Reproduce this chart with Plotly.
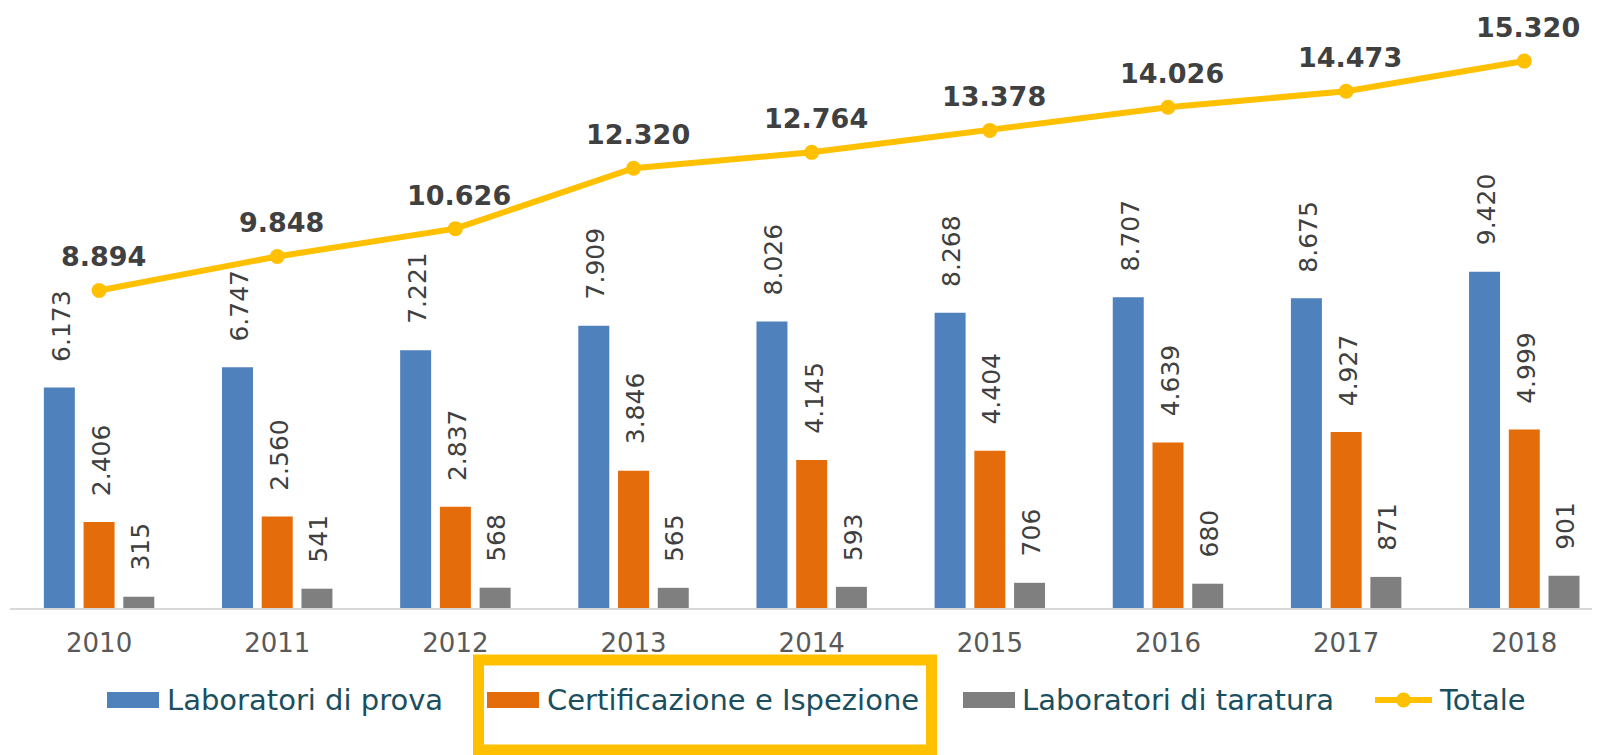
import plotly.graph_objects as go

# ---------------- data ----------------
years = ["2010", "2011", "2012", "2013", "2014", "2015", "2016", "2017", "2018"]
lab_prova = [6173, 6747, 7221, 7909, 8026, 8268, 8707, 8675, 9420]
cert_isp = [2406, 2560, 2837, 3846, 4145, 4404, 4639, 4927, 4999]
lab_taratura = [315, 541, 568, 565, 593, 706, 680, 871, 901]
totale = [8894, 9848, 10626, 12320, 12764, 13378, 14026, 14473, 15320]
series_names = ["Laboratori di prova", "Certificazione e Ispezione",
                "Laboratori di taratura", "Totale"]

# ---------------- style ----------------
colors = ["#4F81BD", "#E46C0A", "#7F7F7F"]
line_color = "#FFC000"
label_color = "#404040"
tick_color = "#595959"
legend_color = "#1B4F5E"
FONT = "DejaVu Sans, Verdana, sans-serif"

OFF = 8                      # page body margin of the browser
W, H = 1600 - OFF, 755 - OFF
ML, MR, MT, MB = 2, 0, 0, 147
PW, PH = W - ML - MR, H - MT - MB


def px(x):   # screen pixel -> paper
    return (x - OFF - ML) / PW


def py(y):   # screen pixel -> paper
    return (OFF + MT + PH - y) / PH


def fmt(v):
    return f"{v:,}".replace(",", ".")


fig = go.Figure()
bar_series = [lab_prova, cert_isp, lab_taratura]
for vals, name, col in zip(bar_series, series_names[:3], colors):
    fig.add_trace(go.Bar(x=years, y=vals, name=name, marker_color=col,
                         marker_line_width=0, showlegend=False))

fig.add_trace(go.Scatter(x=years, y=totale, name=series_names[3],
                         mode="lines+markers",
                         line=dict(color=line_color, width=6),
                         marker=dict(color=line_color, size=15),
                         showlegend=False))

annotations = []
slot = 39.75
for k, vals in enumerate(bar_series):
    for i, v in enumerate(vals):
        annotations.append(dict(
            x=i, y=v, xref="x", yref="y", text=fmt(v), showarrow=False,
            textangle=-90, xanchor="center", yanchor="bottom",
            xshift=(k - 1) * slot + 2, yshift=24,
            font=dict(family=FONT, size=25, color=label_color)))

for i, v in enumerate(totale):
    annotations.append(dict(
        x=i, y=v, xref="x", yref="y", text="<b>" + fmt(v) + "</b>",
        showarrow=False, xanchor="center", yanchor="bottom",
        xshift=4, yshift=16,
        font=dict(family=FONT, size=27, color=label_color)))

# ---------------- manual legend ----------------
shapes = []
swatch_x = [107, 487, 963]
text_x = [165, 545, 1020, 1437]
leg_y = 700
for sx, col in zip(swatch_x, colors):
    shapes.append(dict(type="rect", xref="paper", yref="paper",
                       x0=px(sx), x1=px(sx + 52), y0=py(708), y1=py(692),
                       fillcolor=col, line_width=0))
shapes.append(dict(type="line", xref="paper", yref="paper",
                   x0=px(1375), x1=px(1432), y0=py(leg_y), y1=py(leg_y),
                   line=dict(color=line_color, width=6)))
shapes.append(dict(type="circle", xref="paper", yref="paper",
                   x0=px(1396), x1=px(1411), y0=py(707.5), y1=py(692.5),
                   fillcolor=line_color, line_width=0))
for tx, name in zip(text_x, series_names):
    annotations.append(dict(
        x=px(tx), y=py(leg_y), xref="paper", yref="paper", text=name,
        showarrow=False, xanchor="left", yanchor="middle",
        font=dict(family=FONT, size=29, color=legend_color)))

# highlight frame around the second legend entry
shapes.append(dict(type="rect", xref="paper", yref="paper",
                   x0=px(478.5), x1=px(931.5), y0=py(750), y1=py(660),
                   line=dict(color=line_color, width=11), fillcolor="rgba(0,0,0,0)"))

fig.update_layout(
    width=W, height=H,
    margin=dict(l=ML, r=MR, t=MT, b=MB),
    paper_bgcolor="white", plot_bgcolor="white",
    barmode="group", bargap=0.331, bargroupgap=0.22,
    showlegend=False,
    annotations=annotations, shapes=shapes,
    xaxis=dict(type="category", range=[-0.5, 8.425], showgrid=False,
               showline=True, linecolor="#D9D9D9", linewidth=2,
               ticks="", zeroline=False, ticklabelstandoff=11,
               tickfont=dict(family=FONT, size=26, color=tick_color)),
    yaxis=dict(range=[0, 600 / 0.0357], visible=False, showgrid=False,
               zeroline=False),
)

fig.write_html("out.html")
